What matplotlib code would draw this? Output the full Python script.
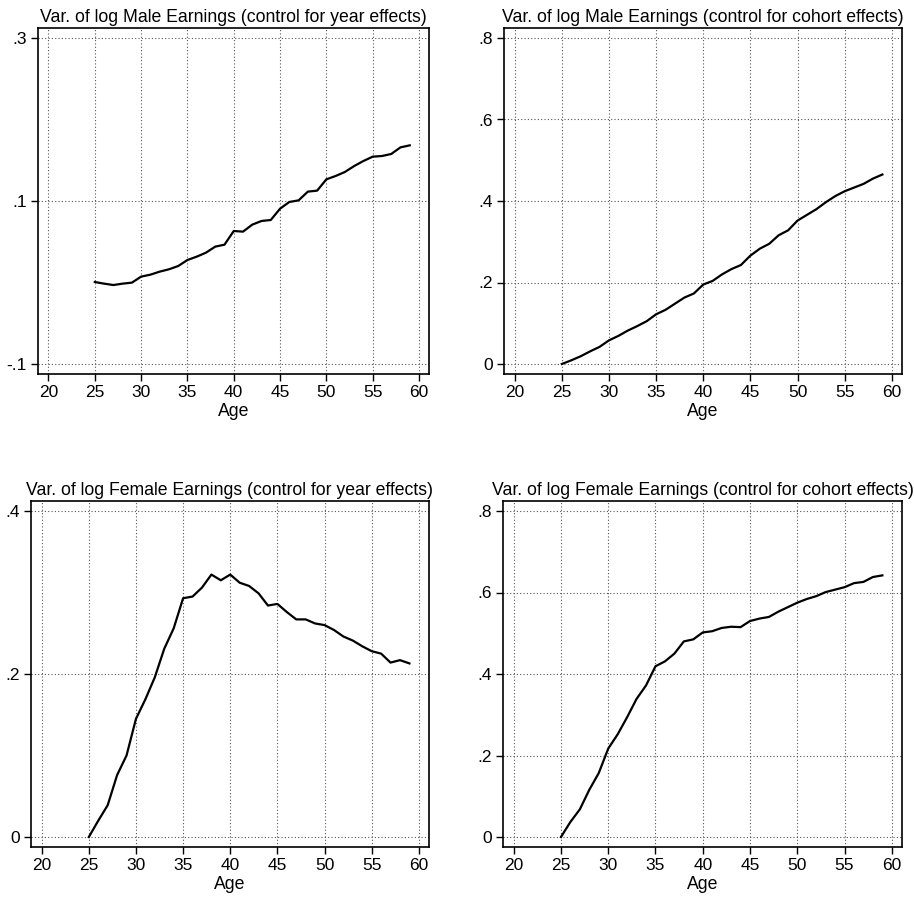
import numpy as np
import matplotlib
matplotlib.use("Agg")
from matplotlib import pyplot as plt
from matplotlib.ticker import FuncFormatter

plt.rcParams['font.family'] = ['Liberation Sans', 'DejaVu Sans']

# ages 25..59
age = list(range(25, 60))

male_year = [0.0006, -0.0014, -0.0031, -0.0014, -0.0002, 0.0072, 0.0096, 0.0133,
             0.0162, 0.0202, 0.0276, 0.0317, 0.0366, 0.0440, 0.0464, 0.0632,
             0.0624, 0.0710, 0.0755, 0.0767, 0.0906, 0.0988, 0.1008, 0.1115,
             0.1127, 0.1266, 0.1307, 0.1356, 0.1429, 0.1491, 0.1544, 0.1552,
             0.1577, 0.1658, 0.1683]

male_cohort = [0.0, 0.009, 0.019, 0.031, 0.042, 0.058, 0.069, 0.082, 0.093, 0.105,
               0.122, 0.133, 0.148, 0.163, 0.173, 0.195, 0.204, 0.220, 0.233, 0.243,
               0.266, 0.283, 0.295, 0.316, 0.328, 0.352, 0.366, 0.380, 0.397, 0.412,
               0.424, 0.433, 0.442, 0.455, 0.465]

female_year = [0.0, 0.020, 0.039, 0.076, 0.100, 0.145, 0.169, 0.196, 0.231, 0.256,
               0.293, 0.295, 0.306, 0.322, 0.315, 0.322, 0.312, 0.308, 0.299, 0.284,
               0.286, 0.276, 0.267, 0.267, 0.262, 0.260, 0.254, 0.246, 0.241, 0.234,
               0.228, 0.225, 0.214, 0.217, 0.213]

female_cohort = [0.0, 0.037, 0.068, 0.116, 0.157, 0.217, 0.252, 0.294, 0.339, 0.372,
                 0.419, 0.431, 0.450, 0.480, 0.485, 0.502, 0.505, 0.513, 0.516, 0.515,
                 0.530, 0.536, 0.540, 0.553, 0.564, 0.575, 0.584, 0.591, 0.601, 0.607,
                 0.613, 0.623, 0.626, 0.638, 0.642]

titles = ["Var. of log Male Earnings (control for year effects)",
          "Var. of log Male Earnings (control for cohort effects)",
          "Var. of log Female Earnings (control for year effects)",
          "Var. of log Female Earnings (control for cohort effects)"]
series = [male_year, male_cohort, female_year, female_cohort]
yticks = [[-0.1, 0.1, 0.3], [0, 0.2, 0.4, 0.6, 0.8],
          [0, 0.2, 0.4], [0, 0.2, 0.4, 0.6, 0.8]]
xticks = [20, 25, 30, 35, 40, 45, 50, 55, 60]


def stata_fmt(v, pos=None):
    # Stata style labels: .3, -.1, 0
    if abs(v) < 1e-9:
        return "0"
    s = ("%g" % round(v, 3))
    return s.replace("0.", ".")


# axes boxes in pixels (left, top, right, bottom) from the reference
W, H = 914, 901
boxes = [(38, 28, 429, 374), (504, 28, 902, 374),
         (31, 501, 429, 847), (503, 501, 902, 847)]

fig = plt.figure(figsize=(W / 100, H / 100), dpi=100)

for i in range(4):
    l, t, r, b = boxes[i]
    ax = fig.add_axes([l / W, 1 - b / H, (r - l) / W, (b - t) / H])
    ax.plot(age, series[i], color="black", lw=1.6)
    yt = yticks[i]
    span = yt[-1] - yt[0]
    pad = span * 10 / 326
    ax.set_ylim(yt[0] - pad, yt[-1] + pad)
    ax.set_xlim(20 - 40 * 10.5 / 371, 60 + 40 * 10 / 371)
    ax.set_yticks(yt)
    ax.set_xticks(xticks)
    ax.yaxis.set_major_formatter(FuncFormatter(stata_fmt))
    ax.grid(True, linestyle=(0, (1, 2)), color="#555555", lw=0.8)
    ax.tick_params(direction="out", length=5, width=1, labelsize=12.5, pad=3)
    for sp in ax.spines.values():
        sp.set_linewidth(1.2)
    ax.set_title(titles[i], fontsize=12.7, pad=4)
    ax.set_xlabel("Age", fontsize=12.7, labelpad=2)

fig.savefig("out.png", dpi=100)
